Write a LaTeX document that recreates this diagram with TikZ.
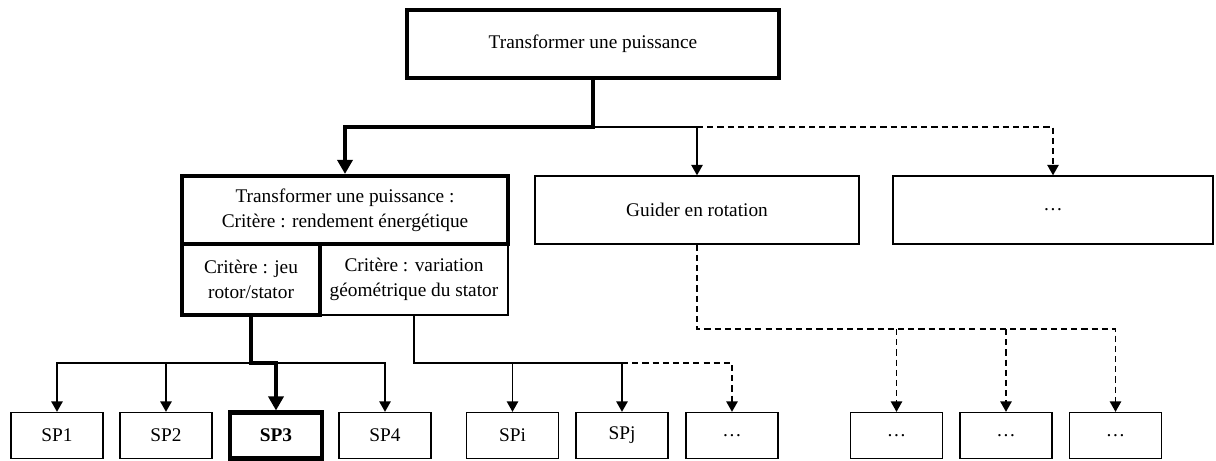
\documentclass[tikz,border=0pt]{standalone}
\usepackage{fontspec}
\setmainfont{Liberation Serif}
\usepackage{tikz}
\usetikzlibrary{arrows.meta}

\begin{document}
\begin{tikzpicture}[x=0.02cm,y=-0.02cm,
  box/.style={draw,line width=0.75pt,inner sep=0pt,align=center,font=\fontsize{11}{14}\selectfont},
  heavybox/.style={box,line width=2.3pt},
  spbox/.style={box,minimum width=1.84cm,minimum height=0.92cm},
  link/.style={-{Triangle[length=6pt,width=6.5pt]},line width=0.9pt},
  heavylink/.style={-{Triangle[length=8pt,width=8.5pt]},line width=2.3pt},
  dashlink/.style={link,dash pattern=on 3.5pt off 2.3pt}]
\useasboundingbox (0,0) rectangle (1216,460);
% fonctions
\node[heavybox,minimum width=7.44cm,minimum height=1.36cm] (top) at (593,44) {Transformer une puissance};
\node[box,minimum width=6.48cm,minimum height=1.36cm] (guide) at (697,210) {Guider en rotation};
\node[box,minimum width=6.4cm,minimum height=1.36cm] (other) at (1053,210) {…};
\node[box,minimum width=3.76cm,minimum height=1.42cm] (var) at (414,279.5) {Critère : variation\\géométrique du stator};
\node[heavybox,minimum width=6.52cm,minimum height=1.36cm] (crit) at (345,210) {Transformer une puissance :\\Critère : rendement énergétique};
\node[heavybox,minimum width=2.76cm,minimum height=1.42cm] (jeu) at (251,279.5) {Critère : jeu\\rotor/stator};
% solutions
\node[spbox] (sp1) at (57,435.5) {SP1};
\node[spbox] (sp2) at (166,435.5) {SP2};
\node[spbox,line width=2.3pt,font=\fontsize{11}{14}\selectfont\bfseries] (sp3) at (276,435.5) {SP3};
\node[spbox] (sp4) at (385,435.5) {SP4};
\node[spbox] (spi) at (512.5,435.5) {SPi};
\node[spbox] (spj) at (622,435.5) {SPj};
\node[spbox] (d1) at (732,435.5) {…};
\node[spbox] (d2) at (896.5,435.5) {…};
\node[spbox] (d3) at (1006,435.5) {…};
\node[spbox] (d4) at (1115.5,435.5) {…};
% liaisons
\coordinate (b1) at (top |- 0,127);
\coordinate (b2) at (guide |- 0,127);
\draw[link] (b1) -| (guide);
\draw[dashlink] (b2) -| (other);
\draw[heavylink] (top) -- (b1) -| (crit);
\coordinate (j1) at (jeu |- 0,363);
\foreach \n in {sp1,sp2,sp4}
  \draw[link] (j1) -| (\n);
\draw[heavylink] (jeu) -- (j1) -| (sp3);
\coordinate (v1) at (var |- 0,363);
\draw[link] (var) -- (v1) -| (spi);
\draw[link] (v1) -| (spj);
\draw[dashlink] (spj |- v1) -| (d1);
\coordinate (g1) at (guide |- 0,329);
\draw[dashlink] (guide) -- (g1) -| (d4);
\draw[dashlink] (d2 |- g1) -- (d2);
\draw[dashlink] (d3 |- g1) -- (d3);
\end{tikzpicture}
\end{document}
